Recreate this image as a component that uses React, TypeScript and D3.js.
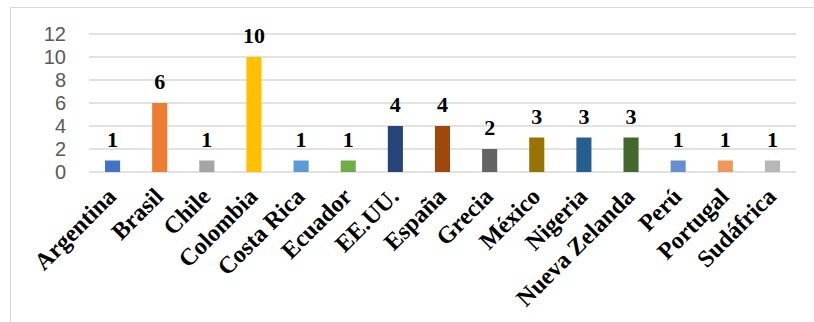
import React from "react";
import * as d3 from "d3";

const categories = ["Argentina","Brasil","Chile","Colombia","Costa Rica","Ecuador","EE.UU.","España","Grecia","México","Nigeria","Nueva Zelanda","Perú","Portugal","Sudáfrica"];
const values = [1,6,1,10,1,1,4,4,2,3,3,3,1,1,1];
const colors = ["#4472C4","#ED7D31","#A5A5A5","#FFC000","#5B9BD5","#70AD47","#264478","#9E480E","#636363","#997300","#255E91","#43682B","#698ED0","#F1975A","#B7B7B7"];
const yTicks = [0,2,4,6,8,10,12];

const SERIF = "'Liberation Serif', 'Times New Roman', 'DejaVu Serif', serif";
const SANS = "'Liberation Sans', Arial, sans-serif";

export default function App() {
  const W = 814, H = 322;
  const x = d3.scaleBand<string>().domain(categories).range([89, 796]).paddingInner(0.68).paddingOuter(0.34);
  const y = d3.scaleLinear().domain([0, 12]).range([172, 34]);
  return (
    <svg width={W} height={H} style={{ position: "fixed", left: 0, top: 0, background: "#fff" }}>
      <rect x={10.5} y={7.5} width={900} height={400} fill="#fff" stroke="#D9D9D9" strokeWidth={1} />
      {yTicks.map(t => (
        <g key={t}>
          <line x1={89} x2={796} y1={y(t)} y2={y(t)} stroke="#D9D9D9" strokeWidth={1.5} />
          <text x={66} y={y(t)} dy="0.35em" textAnchor="end" style={{ fontFamily: SANS }} fontSize={20} fill="#595959">{t}</text>
        </g>
      ))}
      {categories.map((c, i) => (
        <g key={c}>
          <rect x={x(c)} y={y(values[i])} width={x.bandwidth()} height={y(0) - y(values[i])} fill={colors[i]} />
          <text x={(x(c) as number) + x.bandwidth() / 2} y={y(values[i]) - 14} textAnchor="middle" style={{ fontFamily: SERIF, fontWeight: 700 }} fontSize={22} fill="#000">{values[i]}</text>
          <text transform={`translate(${(x(c) as number) + x.bandwidth() / 2 - 1},${192}) rotate(-45)`} textAnchor="end" dy="0.35em" style={{ fontFamily: SERIF, fontWeight: 700 }} fontSize={24} fill="#000">{c}</text>
        </g>
      ))}
    </svg>
  );
}
